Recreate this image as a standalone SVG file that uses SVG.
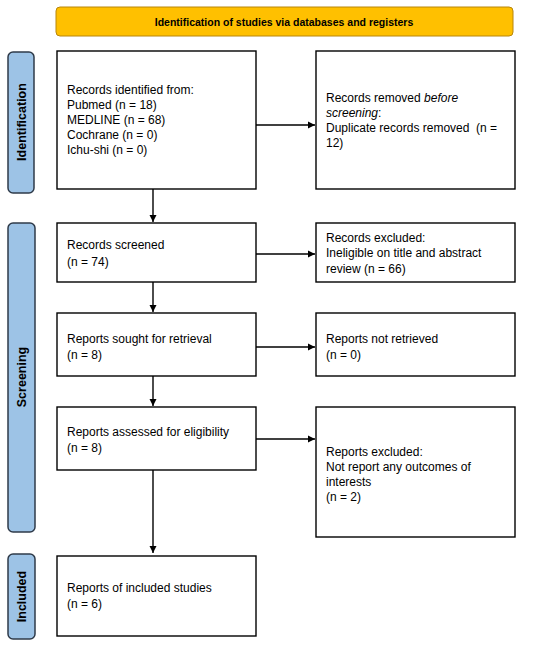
<svg xmlns="http://www.w3.org/2000/svg" width="550" height="648" viewBox="0 0 550 648">
<defs>
<marker id="ah" markerWidth="8" markerHeight="8" refX="7" refY="4" orient="auto" markerUnits="userSpaceOnUse">
<path d="M0,0.5 L7,4 L0,7.5 Z" fill="#000"/>
</marker>
</defs>
<style>
.box{fill:#fff;stroke:#000;stroke-width:1.4}
.side{fill:#9dc3e6;stroke:#2f3b4a;stroke-width:1.5}
.hdr{fill:#ffc000;stroke:#b8860b;stroke-width:1}
.t{font-family:"Liberation Sans",Arial,sans-serif;font-size:12px;fill:#000}
.sl{font-family:"Liberation Sans",Arial,sans-serif;font-size:12.5px;font-weight:bold;fill:#000}
.ht{font-family:"Liberation Sans",Arial,sans-serif;font-size:10.5px;font-weight:bold;fill:#000}
.c{stroke:#000;stroke-width:1.4;fill:none;marker-end:url(#ah)}
</style>
<rect width="550" height="648" fill="#fff"/>
<g id="header"><rect class="hdr" x="56" y="7" width="457" height="29" rx="4"/><text class="ht" x="284" y="26" text-anchor="middle">Identification of studies via databases and registers</text></g>
<g id="label-identification"><rect class="side" x="8" y="52" width="26" height="141" rx="5"/><text class="sl" transform="translate(25.5,122) rotate(-90)" text-anchor="middle">Identification</text></g>
<g id="label-screening"><rect class="side" x="8" y="223" width="27" height="309" rx="5"/><text class="sl" transform="translate(26,377) rotate(-90)" text-anchor="middle">Screening</text></g>
<g id="label-included"><rect class="side" x="8" y="554" width="27" height="85" rx="5"/><text class="sl" transform="translate(26,596.5) rotate(-90)" text-anchor="middle">Included</text></g>
<g id="n1"><rect class="box" x="57" y="51" width="199" height="138"/><text class="t" x="67"><tspan x="67" y="94">Records identified from:</tspan><tspan x="67" y="109">Pubmed (n = 18)</tspan><tspan x="67" y="124">MEDLINE (n = 68)</tspan><tspan x="67" y="139">Cochrane (n = 0)</tspan><tspan x="67" y="154">Ichu-shi (n = 0)</tspan></text></g>
<g id="n1r"><rect class="box" x="316" y="51" width="199" height="138"/><text class="t"><tspan x="326" y="102">Records removed <tspan font-style="italic">before</tspan></tspan><tspan x="326" y="117"><tspan font-style="italic">screening</tspan>:</tspan><tspan x="326" y="132">Duplicate records removed&#160; (n =</tspan><tspan x="326" y="147">12)</tspan></text></g>
<g id="n2"><rect class="box" x="57" y="223" width="199" height="59"/><text class="t"><tspan x="67" y="249">Records screened</tspan><tspan x="67" y="266">(n = 74)</tspan></text></g>
<g id="n2r"><rect class="box" x="316" y="223" width="199" height="59"/><text class="t"><tspan x="326" y="242">Records excluded:</tspan><tspan x="326" y="257">Ineligible on title and abstract</tspan><tspan x="326" y="273">review (n = 66)</tspan></text></g>
<g id="n3"><rect class="box" x="57" y="313" width="199" height="63"/><text class="t"><tspan x="67" y="343">Reports sought for retrieval</tspan><tspan x="67" y="359">(n = 8)</tspan></text></g>
<g id="n3r"><rect class="box" x="316" y="313" width="199" height="63"/><text class="t"><tspan x="326" y="343">Reports not retrieved</tspan><tspan x="326" y="359">(n = 0)</tspan></text></g>
<g id="n4"><rect class="box" x="57" y="407" width="199" height="63"/><text class="t"><tspan x="67" y="436">Reports assessed for eligibility</tspan><tspan x="67" y="452">(n = 8)</tspan></text></g>
<g id="n4r"><rect class="box" x="316" y="407" width="199" height="130"/><text class="t"><tspan x="326" y="456">Reports excluded:</tspan><tspan x="326" y="471">Not report any outcomes of</tspan><tspan x="326" y="486">interests</tspan><tspan x="326" y="501">(n = 2)</tspan></text></g>
<g id="n5"><rect class="box" x="57" y="556" width="199" height="80"/><text class="t"><tspan x="67" y="592">Reports of included studies</tspan><tspan x="67" y="608">(n = 6)</tspan></text></g>
<g id="connectors">
<line class="c" x1="256" y1="125" x2="315" y2="125"/>
<line class="c" x1="153" y1="189" x2="153" y2="222"/>
<line class="c" x1="256" y1="254" x2="315" y2="254"/>
<line class="c" x1="153" y1="282" x2="153" y2="312"/>
<line class="c" x1="256" y1="347" x2="315" y2="347"/>
<line class="c" x1="153" y1="376" x2="153" y2="406"/>
<line class="c" x1="256" y1="439" x2="315" y2="439"/>
<line class="c" x1="153" y1="470" x2="153" y2="553"/>
</g>
</svg>
